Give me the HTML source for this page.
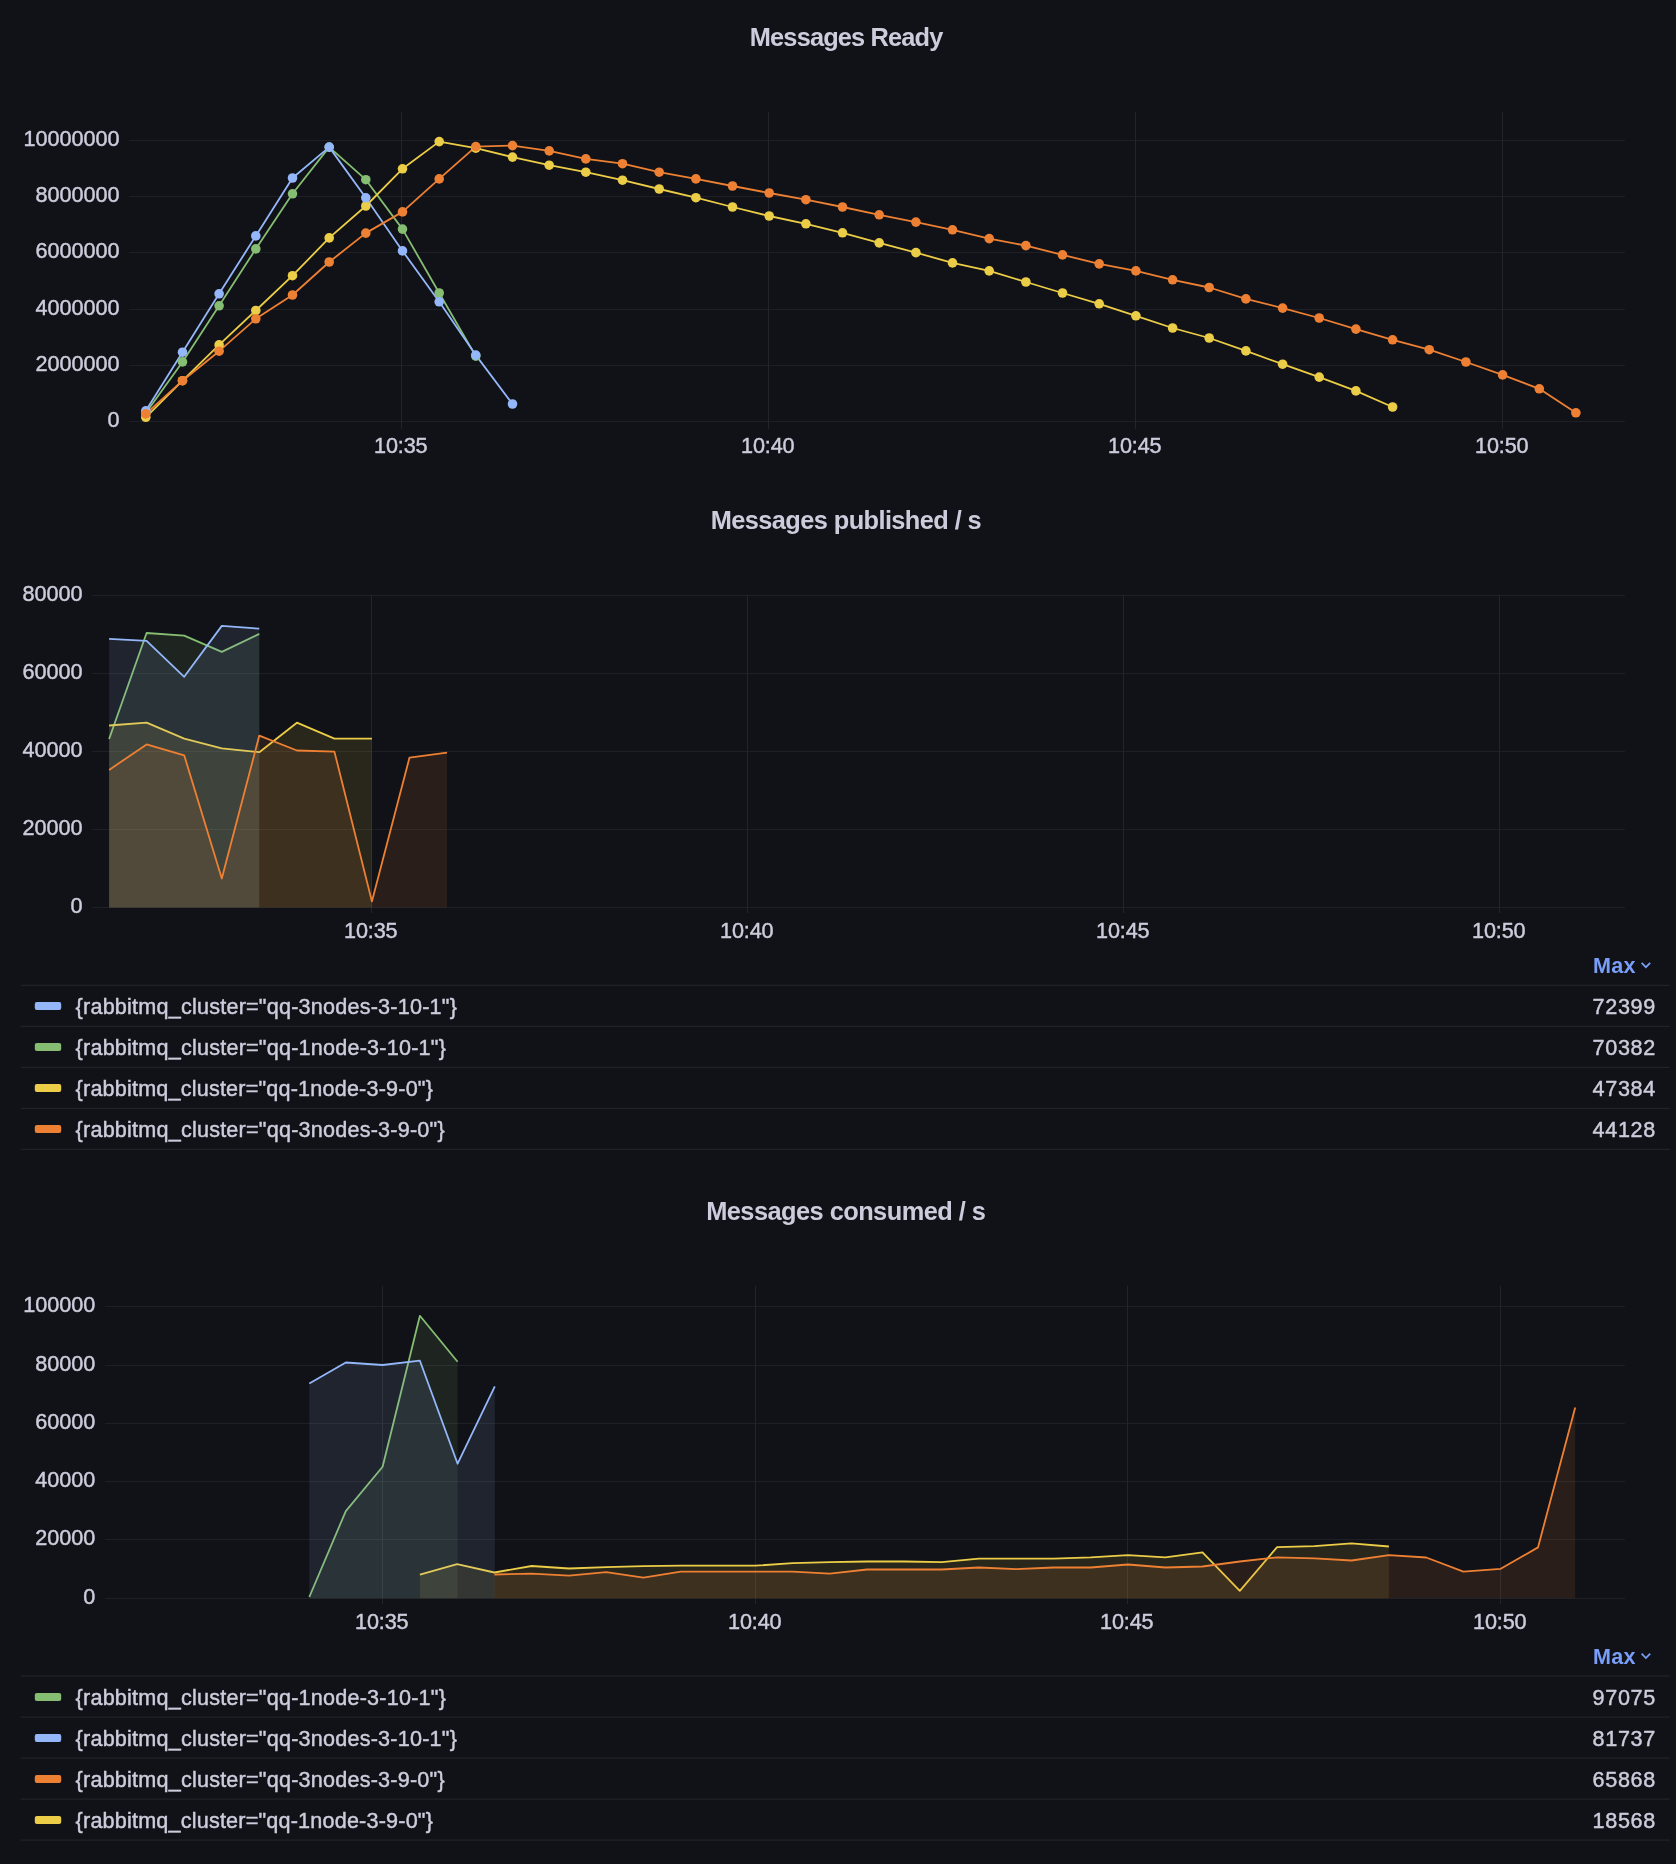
<!DOCTYPE html>
<html><head><meta charset="utf-8"><title>RabbitMQ dashboard</title>
<style>
html,body{margin:0;padding:0;background:#111217;}
#wrap{position:relative;width:1676px;height:1864px;overflow:hidden;}
svg{display:block;position:absolute;left:0;top:0;}
#labels{will-change:transform;}
text{font-family:"Liberation Sans",sans-serif;}
</style></head><body>
<div id="wrap">
<svg width="1676" height="1864" viewBox="0 0 1676 1864">
<rect width="1676" height="1864" fill="#111217"/>
<!-- Messages Ready -->
<path d="M129,140.5H1625M129,196.5H1625M129,252.5H1625M129,309.5H1625M129,365.5H1625M129,421.5H1625" stroke="#1f2026" stroke-width="1" fill="none" shape-rendering="crispEdges"/>
<path d="M401.5,112V429M768.5,112V429M1135.5,112V429M1502.5,112V429" stroke="#23242a" stroke-width="1" fill="none" shape-rendering="crispEdges"/>
<polyline points="145.8,413 182.5,361.9 219.1,305.8 255.8,248.9 292.5,193.8 329.2,147.1 365.8,179.7 402.5,229.1 439.2,293 475.8,356.1" fill="none" stroke="#85bd72" stroke-width="1.8" stroke-linejoin="round"/>
<polyline points="145.8,417.3 182.5,380.7 219.1,344.9 255.8,310.5 292.5,275.7 329.2,237.9 365.8,206 402.5,168.8 439.2,141.6 475.8,148.1 512.5,157.1 549.2,165.2 585.8,172.2 622.5,180.2 659.2,189 695.9,197.7 732.5,207 769.2,216 805.9,223.8 842.5,232.8 879.2,242.9 915.9,252.6 952.5,262.9 989.2,270.9 1025.9,282 1062.5,293 1099.2,303.8 1135.9,315.8 1172.6,328 1209.2,338 1245.9,350.9 1282.6,364.2 1319.2,377.1 1355.9,390.9 1392.6,407" fill="none" stroke="#eccd47" stroke-width="1.8" stroke-linejoin="round"/>
<polyline points="145.8,410.8 182.5,352.2 219.1,293.8 255.8,235.9 292.5,178 329.2,147.1 365.8,197.8 402.5,250.9 439.2,301.8 475.8,355.1 512.5,404" fill="none" stroke="#94b7f9" stroke-width="1.8" stroke-linejoin="round"/>
<polyline points="145.8,413.9 182.5,380.7 219.1,351.2 255.8,318.8 292.5,295 329.2,262 365.8,233.1 402.5,211.9 439.2,178.9 475.8,146.6 512.5,145.6 549.2,150.9 585.8,158.9 622.5,163.7 659.2,172.2 695.9,178.9 732.5,186 769.2,193 805.9,199.7 842.5,207 879.2,214.8 915.9,222.1 952.5,229.8 989.2,238.6 1025.9,245.6 1062.5,254.9 1099.2,263.9 1135.9,270.9 1172.6,279.8 1209.2,287.5 1245.9,298.9 1282.6,308.1 1319.2,318 1355.9,329.1 1392.6,339.8 1429.2,349.7 1465.9,362 1502.6,374.9 1539.3,388.8 1575.9,412.8" fill="none" stroke="#ee8033" stroke-width="1.8" stroke-linejoin="round"/>
<g fill="#85bd72"><circle cx="145.8" cy="413" r="4.8"/><circle cx="182.5" cy="361.9" r="4.8"/><circle cx="219.1" cy="305.8" r="4.8"/><circle cx="255.8" cy="248.9" r="4.8"/><circle cx="292.5" cy="193.8" r="4.8"/><circle cx="329.2" cy="147.1" r="4.8"/><circle cx="365.8" cy="179.7" r="4.8"/><circle cx="402.5" cy="229.1" r="4.8"/><circle cx="439.2" cy="293" r="4.8"/><circle cx="475.8" cy="356.1" r="4.8"/></g>
<g fill="#eccd47"><circle cx="145.8" cy="417.3" r="4.8"/><circle cx="182.5" cy="380.7" r="4.8"/><circle cx="219.1" cy="344.9" r="4.8"/><circle cx="255.8" cy="310.5" r="4.8"/><circle cx="292.5" cy="275.7" r="4.8"/><circle cx="329.2" cy="237.9" r="4.8"/><circle cx="365.8" cy="206" r="4.8"/><circle cx="402.5" cy="168.8" r="4.8"/><circle cx="439.2" cy="141.6" r="4.8"/><circle cx="475.8" cy="148.1" r="4.8"/><circle cx="512.5" cy="157.1" r="4.8"/><circle cx="549.2" cy="165.2" r="4.8"/><circle cx="585.8" cy="172.2" r="4.8"/><circle cx="622.5" cy="180.2" r="4.8"/><circle cx="659.2" cy="189" r="4.8"/><circle cx="695.9" cy="197.7" r="4.8"/><circle cx="732.5" cy="207" r="4.8"/><circle cx="769.2" cy="216" r="4.8"/><circle cx="805.9" cy="223.8" r="4.8"/><circle cx="842.5" cy="232.8" r="4.8"/><circle cx="879.2" cy="242.9" r="4.8"/><circle cx="915.9" cy="252.6" r="4.8"/><circle cx="952.5" cy="262.9" r="4.8"/><circle cx="989.2" cy="270.9" r="4.8"/><circle cx="1025.9" cy="282" r="4.8"/><circle cx="1062.5" cy="293" r="4.8"/><circle cx="1099.2" cy="303.8" r="4.8"/><circle cx="1135.9" cy="315.8" r="4.8"/><circle cx="1172.6" cy="328" r="4.8"/><circle cx="1209.2" cy="338" r="4.8"/><circle cx="1245.9" cy="350.9" r="4.8"/><circle cx="1282.6" cy="364.2" r="4.8"/><circle cx="1319.2" cy="377.1" r="4.8"/><circle cx="1355.9" cy="390.9" r="4.8"/><circle cx="1392.6" cy="407" r="4.8"/></g>
<g fill="#94b7f9"><circle cx="145.8" cy="410.8" r="4.8"/><circle cx="182.5" cy="352.2" r="4.8"/><circle cx="219.1" cy="293.8" r="4.8"/><circle cx="255.8" cy="235.9" r="4.8"/><circle cx="292.5" cy="178" r="4.8"/><circle cx="329.2" cy="147.1" r="4.8"/><circle cx="365.8" cy="197.8" r="4.8"/><circle cx="402.5" cy="250.9" r="4.8"/><circle cx="439.2" cy="301.8" r="4.8"/><circle cx="475.8" cy="355.1" r="4.8"/><circle cx="512.5" cy="404" r="4.8"/></g>
<g fill="#ee8033"><circle cx="145.8" cy="413.9" r="4.8"/><circle cx="182.5" cy="380.7" r="4.8"/><circle cx="219.1" cy="351.2" r="4.8"/><circle cx="255.8" cy="318.8" r="4.8"/><circle cx="292.5" cy="295" r="4.8"/><circle cx="329.2" cy="262" r="4.8"/><circle cx="365.8" cy="233.1" r="4.8"/><circle cx="402.5" cy="211.9" r="4.8"/><circle cx="439.2" cy="178.9" r="4.8"/><circle cx="475.8" cy="146.6" r="4.8"/><circle cx="512.5" cy="145.6" r="4.8"/><circle cx="549.2" cy="150.9" r="4.8"/><circle cx="585.8" cy="158.9" r="4.8"/><circle cx="622.5" cy="163.7" r="4.8"/><circle cx="659.2" cy="172.2" r="4.8"/><circle cx="695.9" cy="178.9" r="4.8"/><circle cx="732.5" cy="186" r="4.8"/><circle cx="769.2" cy="193" r="4.8"/><circle cx="805.9" cy="199.7" r="4.8"/><circle cx="842.5" cy="207" r="4.8"/><circle cx="879.2" cy="214.8" r="4.8"/><circle cx="915.9" cy="222.1" r="4.8"/><circle cx="952.5" cy="229.8" r="4.8"/><circle cx="989.2" cy="238.6" r="4.8"/><circle cx="1025.9" cy="245.6" r="4.8"/><circle cx="1062.5" cy="254.9" r="4.8"/><circle cx="1099.2" cy="263.9" r="4.8"/><circle cx="1135.9" cy="270.9" r="4.8"/><circle cx="1172.6" cy="279.8" r="4.8"/><circle cx="1209.2" cy="287.5" r="4.8"/><circle cx="1245.9" cy="298.9" r="4.8"/><circle cx="1282.6" cy="308.1" r="4.8"/><circle cx="1319.2" cy="318" r="4.8"/><circle cx="1355.9" cy="329.1" r="4.8"/><circle cx="1392.6" cy="339.8" r="4.8"/><circle cx="1429.2" cy="349.7" r="4.8"/><circle cx="1465.9" cy="362" r="4.8"/><circle cx="1502.6" cy="374.9" r="4.8"/><circle cx="1539.3" cy="388.8" r="4.8"/><circle cx="1575.9" cy="412.8" r="4.8"/></g>
<!-- Messages published / s -->
<path d="M92,595.5H1625M92,673.5H1625M92,751.5H1625M92,829.5H1625M92,907.5H1625" stroke="#1f2026" stroke-width="1" fill="none" shape-rendering="crispEdges"/>
<path d="M371.5,595V913M747.5,595V913M1123.5,595V913M1499.5,595V913" stroke="#23242a" stroke-width="1" fill="none" shape-rendering="crispEdges"/>
<polygon points="109.1,739 146.6,633 184.2,635.6 221.8,651.9 259.3,633.9 259.3,907.5 109.1,907.5" fill="#85bd72" fill-opacity="0.11"/>
<polyline points="109.1,739 146.6,633 184.2,635.6 221.8,651.9 259.3,633.9" fill="none" stroke="#85bd72" stroke-width="1.8" stroke-linejoin="round"/>
<polygon points="109.1,725.5 146.6,722.7 184.2,738.7 221.8,748.4 259.3,752.2 296.9,722.7 334.4,738.7 371.9,738.7 371.9,907.5 109.1,907.5" fill="#eccd47" fill-opacity="0.11"/>
<polyline points="109.1,725.5 146.6,722.7 184.2,738.7 221.8,748.4 259.3,752.2 296.9,722.7 334.4,738.7 371.9,738.7" fill="none" stroke="#eccd47" stroke-width="1.8" stroke-linejoin="round"/>
<polygon points="109.1,638.8 146.6,640.8 184.2,676.8 221.8,625.9 259.3,628.7 259.3,907.5 109.1,907.5" fill="#94b7f9" fill-opacity="0.11"/>
<polyline points="109.1,638.8 146.6,640.8 184.2,676.8 221.8,625.9 259.3,628.7" fill="none" stroke="#94b7f9" stroke-width="1.8" stroke-linejoin="round"/>
<polygon points="109.1,769.9 146.6,744.4 184.2,755.3 221.8,878.5 259.3,735.6 296.9,750.5 334.4,751.6 371.9,901.4 409.5,757.6 447,752.7 447,907.5 109.1,907.5" fill="#ee8033" fill-opacity="0.11"/>
<polyline points="109.1,769.9 146.6,744.4 184.2,755.3 221.8,878.5 259.3,735.6 296.9,750.5 334.4,751.6 371.9,901.4 409.5,757.6 447,752.7" fill="none" stroke="#ee8033" stroke-width="1.8" stroke-linejoin="round"/>
<path d="M1641.6,962.8L1645.9,967.2L1650.2,962.8" fill="none" stroke="#799ef8" stroke-width="1.7"/>
<path d="M20.7,985.3H1670M20.7,1026.3H1670M20.7,1067.3H1670M20.7,1108.3H1670M20.7,1149.3H1670" stroke="#212228" stroke-width="1.2" fill="none"/>
<rect x="34.8" y="1002.1" width="26.4" height="8" rx="2" fill="#94b7f9"/>
<rect x="34.8" y="1043.1" width="26.4" height="8" rx="2" fill="#85bd72"/>
<rect x="34.8" y="1084.1" width="26.4" height="8" rx="2" fill="#eccd47"/>
<rect x="34.8" y="1125.1" width="26.4" height="8" rx="2" fill="#ee8033"/>
<!-- Messages consumed / s -->
<path d="M105,1306.5H1625M105,1365.5H1625M105,1423.5H1625M105,1481.5H1625M105,1539.5H1625M105,1598.5H1625" stroke="#1f2026" stroke-width="1" fill="none" shape-rendering="crispEdges"/>
<path d="M382.5,1286V1604M755.5,1286V1604M1127.5,1286V1604M1500.5,1286V1604" stroke="#23242a" stroke-width="1" fill="none" shape-rendering="crispEdges"/>
<polygon points="309.3,1597 345.8,1511.1 382.6,1466.7 419.9,1315.8 457.6,1361.7 457.6,1598.3 309.3,1598.3" fill="#85bd72" fill-opacity="0.11"/>
<polyline points="309.3,1597 345.8,1511.1 382.6,1466.7 419.9,1315.8 457.6,1361.7" fill="none" stroke="#85bd72" stroke-width="1.8" stroke-linejoin="round"/>
<polygon points="419.9,1574.7 457.1,1564.2 494.4,1572.5 531.7,1566 569,1568.5 606.2,1567.2 643.5,1566.2 680.8,1565.6 718,1565.7 755.3,1565.7 792.6,1563.2 829.8,1562.2 867.1,1561.5 904.4,1561.5 941.7,1562.2 978.9,1558.7 1016.2,1558.7 1053.5,1558.7 1090.7,1557.4 1128,1555.2 1165.3,1557.4 1202.5,1552.4 1239.8,1590.9 1277.1,1547.1 1314.4,1546.2 1351.6,1543.4 1388.9,1546.5 1388.9,1598.3 419.9,1598.3" fill="#eccd47" fill-opacity="0.11"/>
<polyline points="419.9,1574.7 457.1,1564.2 494.4,1572.5 531.7,1566 569,1568.5 606.2,1567.2 643.5,1566.2 680.8,1565.6 718,1565.7 755.3,1565.7 792.6,1563.2 829.8,1562.2 867.1,1561.5 904.4,1561.5 941.7,1562.2 978.9,1558.7 1016.2,1558.7 1053.5,1558.7 1090.7,1557.4 1128,1555.2 1165.3,1557.4 1202.5,1552.4 1239.8,1590.9 1277.1,1547.1 1314.4,1546.2 1351.6,1543.4 1388.9,1546.5" fill="none" stroke="#eccd47" stroke-width="1.8" stroke-linejoin="round"/>
<polygon points="309.3,1383.5 345.8,1362.5 382.6,1365 419.9,1360.7 457.6,1463.7 494.8,1386.3 494.8,1598.3 309.3,1598.3" fill="#94b7f9" fill-opacity="0.11"/>
<polyline points="309.3,1383.5 345.8,1362.5 382.6,1365 419.9,1360.7 457.6,1463.7 494.8,1386.3" fill="none" stroke="#94b7f9" stroke-width="1.8" stroke-linejoin="round"/>
<polygon points="494.4,1574.5 531.7,1573.7 569,1575.7 606.2,1572.2 643.5,1577.7 680.8,1571.6 718,1571.7 755.3,1571.7 792.6,1571.7 829.8,1573.7 867.1,1569.5 904.4,1569.5 941.7,1569.5 978.9,1567.5 1016.2,1569.2 1053.5,1567.5 1090.7,1567.5 1128,1564.5 1165.3,1567.5 1202.5,1566.5 1239.8,1561.5 1277.1,1557.4 1314.4,1558.4 1351.6,1560.5 1388.9,1555.2 1426.2,1557.5 1463.4,1571.6 1500.7,1568.8 1538,1547.4 1575.2,1407.5 1575.2,1598.3 494.4,1598.3" fill="#ee8033" fill-opacity="0.11"/>
<polyline points="494.4,1574.5 531.7,1573.7 569,1575.7 606.2,1572.2 643.5,1577.7 680.8,1571.6 718,1571.7 755.3,1571.7 792.6,1571.7 829.8,1573.7 867.1,1569.5 904.4,1569.5 941.7,1569.5 978.9,1567.5 1016.2,1569.2 1053.5,1567.5 1090.7,1567.5 1128,1564.5 1165.3,1567.5 1202.5,1566.5 1239.8,1561.5 1277.1,1557.4 1314.4,1558.4 1351.6,1560.5 1388.9,1555.2 1426.2,1557.5 1463.4,1571.6 1500.7,1568.8 1538,1547.4 1575.2,1407.5" fill="none" stroke="#ee8033" stroke-width="1.8" stroke-linejoin="round"/>
<path d="M1641.6,1653.6L1645.9,1658L1650.2,1653.6" fill="none" stroke="#799ef8" stroke-width="1.7"/>
<path d="M20.7,1676.1H1670M20.7,1717.1H1670M20.7,1758.1H1670M20.7,1799.1H1670M20.7,1840.1H1670" stroke="#212228" stroke-width="1.2" fill="none"/>
<rect x="34.8" y="1692.9" width="26.4" height="8" rx="2" fill="#85bd72"/>
<rect x="34.8" y="1733.9" width="26.4" height="8" rx="2" fill="#94b7f9"/>
<rect x="34.8" y="1774.9" width="26.4" height="8" rx="2" fill="#ee8033"/>
<rect x="34.8" y="1815.9" width="26.4" height="8" rx="2" fill="#eccd47"/>
</svg>
<!-- text labels (separate layer) -->
<svg id="labels" width="1676" height="1864" viewBox="0 0 1676 1864">
<text x="846.6" y="45.8" text-anchor="middle" font-size="25.4" fill="#ccccdc" textLength="193.6" lengthAdjust="spacing" font-weight="bold">Messages Ready</text>
<text x="119.6" y="145.7" text-anchor="end" font-size="21.6" fill="#ccccdc" stroke="#ccccdc" stroke-width="0.45">10000000</text>
<text x="119.6" y="201.7" text-anchor="end" font-size="21.6" fill="#ccccdc" stroke="#ccccdc" stroke-width="0.45">8000000</text>
<text x="119.6" y="257.7" text-anchor="end" font-size="21.6" fill="#ccccdc" stroke="#ccccdc" stroke-width="0.45">6000000</text>
<text x="119.6" y="314.7" text-anchor="end" font-size="21.6" fill="#ccccdc" stroke="#ccccdc" stroke-width="0.45">4000000</text>
<text x="119.6" y="370.7" text-anchor="end" font-size="21.6" fill="#ccccdc" stroke="#ccccdc" stroke-width="0.45">2000000</text>
<text x="119.6" y="426.7" text-anchor="end" font-size="21.6" fill="#ccccdc" stroke="#ccccdc" stroke-width="0.45">0</text>
<text x="400.8" y="453.3" text-anchor="middle" font-size="21.6" fill="#ccccdc" textLength="53.5" lengthAdjust="spacing" stroke="#ccccdc" stroke-width="0.45">10:35</text>
<text x="767.8" y="453.3" text-anchor="middle" font-size="21.6" fill="#ccccdc" textLength="53.5" lengthAdjust="spacing" stroke="#ccccdc" stroke-width="0.45">10:40</text>
<text x="1134.8" y="453.3" text-anchor="middle" font-size="21.6" fill="#ccccdc" textLength="53.5" lengthAdjust="spacing" stroke="#ccccdc" stroke-width="0.45">10:45</text>
<text x="1501.8" y="453.3" text-anchor="middle" font-size="21.6" fill="#ccccdc" textLength="53.5" lengthAdjust="spacing" stroke="#ccccdc" stroke-width="0.45">10:50</text>
<text x="846.2" y="529" text-anchor="middle" font-size="25.4" fill="#ccccdc" textLength="271" lengthAdjust="spacing" font-weight="bold">Messages published / s</text>
<text x="82.6" y="600.7" text-anchor="end" font-size="21.6" fill="#ccccdc" stroke="#ccccdc" stroke-width="0.45">80000</text>
<text x="82.6" y="678.7" text-anchor="end" font-size="21.6" fill="#ccccdc" stroke="#ccccdc" stroke-width="0.45">60000</text>
<text x="82.6" y="756.7" text-anchor="end" font-size="21.6" fill="#ccccdc" stroke="#ccccdc" stroke-width="0.45">40000</text>
<text x="82.6" y="834.7" text-anchor="end" font-size="21.6" fill="#ccccdc" stroke="#ccccdc" stroke-width="0.45">20000</text>
<text x="82.6" y="912.7" text-anchor="end" font-size="21.6" fill="#ccccdc" stroke="#ccccdc" stroke-width="0.45">0</text>
<text x="370.8" y="938.3" text-anchor="middle" font-size="21.6" fill="#ccccdc" textLength="53.5" lengthAdjust="spacing" stroke="#ccccdc" stroke-width="0.45">10:35</text>
<text x="746.8" y="938.3" text-anchor="middle" font-size="21.6" fill="#ccccdc" textLength="53.5" lengthAdjust="spacing" stroke="#ccccdc" stroke-width="0.45">10:40</text>
<text x="1122.8" y="938.3" text-anchor="middle" font-size="21.6" fill="#ccccdc" textLength="53.5" lengthAdjust="spacing" stroke="#ccccdc" stroke-width="0.45">10:45</text>
<text x="1498.8" y="938.3" text-anchor="middle" font-size="21.6" fill="#ccccdc" textLength="53.5" lengthAdjust="spacing" stroke="#ccccdc" stroke-width="0.45">10:50</text>
<text x="1593" y="973" text-anchor="start" font-size="21.6" fill="#799ef8" textLength="42.6" lengthAdjust="spacing" font-weight="bold">Max</text>
<text x="75.6" y="1013.8" text-anchor="start" font-size="21.6" fill="#ccccdc" textLength="381.3" lengthAdjust="spacing" stroke="#ccccdc" stroke-width="0.45">{rabbitmq_cluster=&quot;qq-3nodes-3-10-1&quot;}</text>
<text x="1655.2" y="1013.8" text-anchor="end" font-size="21.6" fill="#ccccdc" textLength="62.6" lengthAdjust="spacing" stroke="#ccccdc" stroke-width="0.45">72399</text>
<text x="75.6" y="1054.8" text-anchor="start" font-size="21.6" fill="#ccccdc" textLength="370.3" lengthAdjust="spacing" stroke="#ccccdc" stroke-width="0.45">{rabbitmq_cluster=&quot;qq-1node-3-10-1&quot;}</text>
<text x="1655.2" y="1054.8" text-anchor="end" font-size="21.6" fill="#ccccdc" textLength="62.6" lengthAdjust="spacing" stroke="#ccccdc" stroke-width="0.45">70382</text>
<text x="75.6" y="1095.8" text-anchor="start" font-size="21.6" fill="#ccccdc" textLength="357.3" lengthAdjust="spacing" stroke="#ccccdc" stroke-width="0.45">{rabbitmq_cluster=&quot;qq-1node-3-9-0&quot;}</text>
<text x="1655.2" y="1095.8" text-anchor="end" font-size="21.6" fill="#ccccdc" textLength="62.6" lengthAdjust="spacing" stroke="#ccccdc" stroke-width="0.45">47384</text>
<text x="75.6" y="1136.8" text-anchor="start" font-size="21.6" fill="#ccccdc" textLength="369" lengthAdjust="spacing" stroke="#ccccdc" stroke-width="0.45">{rabbitmq_cluster=&quot;qq-3nodes-3-9-0&quot;}</text>
<text x="1655.2" y="1136.8" text-anchor="end" font-size="21.6" fill="#ccccdc" textLength="62.6" lengthAdjust="spacing" stroke="#ccccdc" stroke-width="0.45">44128</text>
<text x="846" y="1220.1" text-anchor="middle" font-size="25.4" fill="#ccccdc" textLength="279.6" lengthAdjust="spacing" font-weight="bold">Messages consumed / s</text>
<text x="95.3" y="1311.7" text-anchor="end" font-size="21.6" fill="#ccccdc" stroke="#ccccdc" stroke-width="0.45">100000</text>
<text x="95.3" y="1370.7" text-anchor="end" font-size="21.6" fill="#ccccdc" stroke="#ccccdc" stroke-width="0.45">80000</text>
<text x="95.3" y="1428.7" text-anchor="end" font-size="21.6" fill="#ccccdc" stroke="#ccccdc" stroke-width="0.45">60000</text>
<text x="95.3" y="1486.7" text-anchor="end" font-size="21.6" fill="#ccccdc" stroke="#ccccdc" stroke-width="0.45">40000</text>
<text x="95.3" y="1544.7" text-anchor="end" font-size="21.6" fill="#ccccdc" stroke="#ccccdc" stroke-width="0.45">20000</text>
<text x="95.3" y="1603.7" text-anchor="end" font-size="21.6" fill="#ccccdc" stroke="#ccccdc" stroke-width="0.45">0</text>
<text x="381.8" y="1629.3" text-anchor="middle" font-size="21.6" fill="#ccccdc" textLength="53.5" lengthAdjust="spacing" stroke="#ccccdc" stroke-width="0.45">10:35</text>
<text x="754.8" y="1629.3" text-anchor="middle" font-size="21.6" fill="#ccccdc" textLength="53.5" lengthAdjust="spacing" stroke="#ccccdc" stroke-width="0.45">10:40</text>
<text x="1126.8" y="1629.3" text-anchor="middle" font-size="21.6" fill="#ccccdc" textLength="53.5" lengthAdjust="spacing" stroke="#ccccdc" stroke-width="0.45">10:45</text>
<text x="1499.8" y="1629.3" text-anchor="middle" font-size="21.6" fill="#ccccdc" textLength="53.5" lengthAdjust="spacing" stroke="#ccccdc" stroke-width="0.45">10:50</text>
<text x="1593" y="1663.8" text-anchor="start" font-size="21.6" fill="#799ef8" textLength="42.6" lengthAdjust="spacing" font-weight="bold">Max</text>
<text x="75.6" y="1704.6" text-anchor="start" font-size="21.6" fill="#ccccdc" textLength="370.3" lengthAdjust="spacing" stroke="#ccccdc" stroke-width="0.45">{rabbitmq_cluster=&quot;qq-1node-3-10-1&quot;}</text>
<text x="1655.2" y="1704.6" text-anchor="end" font-size="21.6" fill="#ccccdc" textLength="62.6" lengthAdjust="spacing" stroke="#ccccdc" stroke-width="0.45">97075</text>
<text x="75.6" y="1745.6" text-anchor="start" font-size="21.6" fill="#ccccdc" textLength="381.3" lengthAdjust="spacing" stroke="#ccccdc" stroke-width="0.45">{rabbitmq_cluster=&quot;qq-3nodes-3-10-1&quot;}</text>
<text x="1655.2" y="1745.6" text-anchor="end" font-size="21.6" fill="#ccccdc" textLength="62.6" lengthAdjust="spacing" stroke="#ccccdc" stroke-width="0.45">81737</text>
<text x="75.6" y="1786.6" text-anchor="start" font-size="21.6" fill="#ccccdc" textLength="369" lengthAdjust="spacing" stroke="#ccccdc" stroke-width="0.45">{rabbitmq_cluster=&quot;qq-3nodes-3-9-0&quot;}</text>
<text x="1655.2" y="1786.6" text-anchor="end" font-size="21.6" fill="#ccccdc" textLength="62.6" lengthAdjust="spacing" stroke="#ccccdc" stroke-width="0.45">65868</text>
<text x="75.6" y="1827.6" text-anchor="start" font-size="21.6" fill="#ccccdc" textLength="357.3" lengthAdjust="spacing" stroke="#ccccdc" stroke-width="0.45">{rabbitmq_cluster=&quot;qq-1node-3-9-0&quot;}</text>
<text x="1655.2" y="1827.6" text-anchor="end" font-size="21.6" fill="#ccccdc" textLength="62.6" lengthAdjust="spacing" stroke="#ccccdc" stroke-width="0.45">18568</text>
</svg>
</div></body></html>
